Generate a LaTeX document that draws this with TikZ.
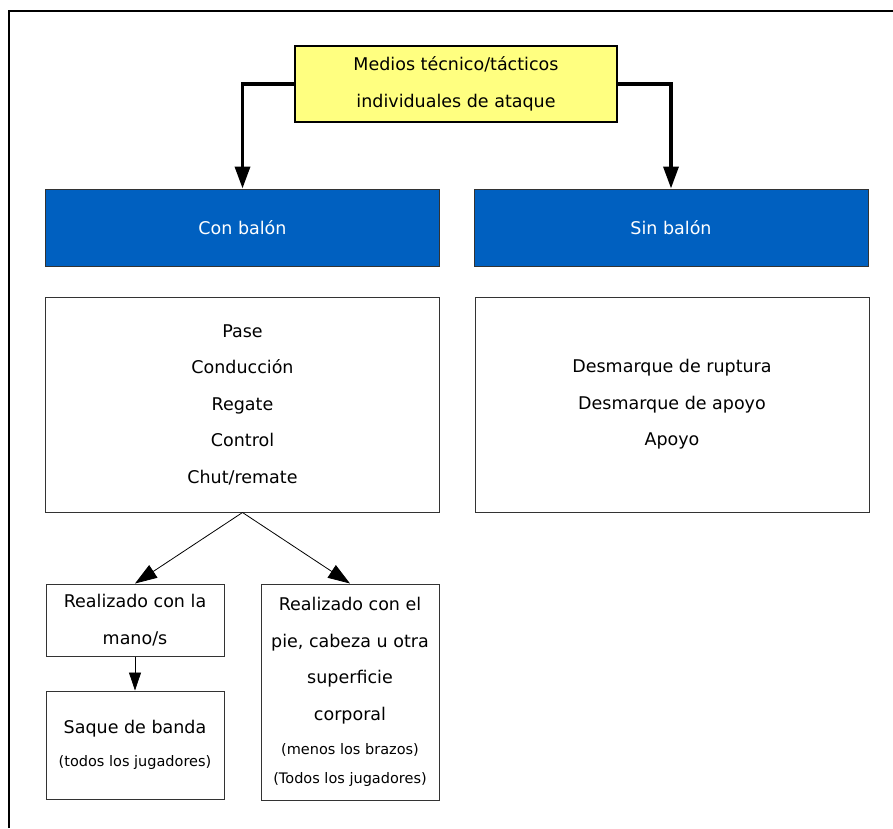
\documentclass[tikz,border=0pt]{standalone}
\usepackage{fontspec}
\setmainfont{DejaVu Sans}
\usetikzlibrary{arrows.meta}
\definecolor{paleyellow}{RGB}{255,255,128}
\definecolor{headblue}{RGB}{0,96,192}
\newcommand\smalltxt{\fontsize{14.5}{30}\selectfont}
\begin{document}
\begin{tikzpicture}[x=1pt,y=-1pt,
  every node/.style={font=\fontsize{17.5}{36.5}\selectfont, align=center, inner sep=0pt},
  topbox/.style={draw=black, line width=1.6pt, fill=paleyellow, minimum width=322pt, minimum height=76pt},
  bluebox/.style={draw=black!80, line width=1pt, fill=headblue, text=white, minimum width=394pt, minimum height=77pt},
  listbox/.style={draw=black!80, line width=1pt, fill=white, minimum width=394pt, minimum height=215pt},
  subbox/.style={draw=black!80, line width=1pt, fill=white, minimum width=178pt},
  heavyarrow/.style={line width=3.5pt, -{Triangle[length=22pt,width=15pt]}},
  lightarrow/.style={line width=0.8pt, -{Triangle[length=22pt,width=15pt]}}
]
\useasboundingbox (0,0) rectangle (893,828);
% open frame: left and top sides only
\draw[line width=2pt] (9,828) -- (9,10.5) -- (893,10.5);

\node[topbox] (top) at (456,84) {Medios técnico/tácticos\\individuales de ataque};

\node[bluebox] (conb) at (242.5,227.5) {Con balón};
\node[bluebox] (sinb) at (671,227.5) {Sin balón};

\node[listbox] (conlist) at (242.5,404.5) {Pase\\Conducción\\Regate\\Control\\Chut/remate};
\node[listbox] (sinlist) at (672,404.5) {Desmarque de ruptura\\Desmarque de apoyo\\Apoyo};

\node[subbox, minimum height=72pt] (mano) at (135,620) {Realizado con la\\mano/s};
\node[subbox, minimum height=108pt] (saque) at (135,745)
  {Saque de banda\\[-3.5pt]{\smalltxt (todos los jugadores)}};
\node[subbox, minimum height=216pt] (pie) at (350,692)
  {Realizado con el\\pie, cabeza u otra\\superficie\\corporal\\[-2.5pt]{\smalltxt (menos los brazos)}\\[-7.5pt]{\smalltxt (Todos los jugadores)}};

% connectors
\draw[heavyarrow] (top.west) -| (conb.north);
\draw[heavyarrow] (top.east) -| (sinb.north);
\draw[lightarrow] (conlist.south) -- (mano.north);
\draw[lightarrow] (conlist.south) -- (pie.north);
\draw[line width=0.8pt, -{Triangle[length=18pt,width=12pt]}] (mano.south) -- (saque.north);
\end{tikzpicture}
\end{document}
